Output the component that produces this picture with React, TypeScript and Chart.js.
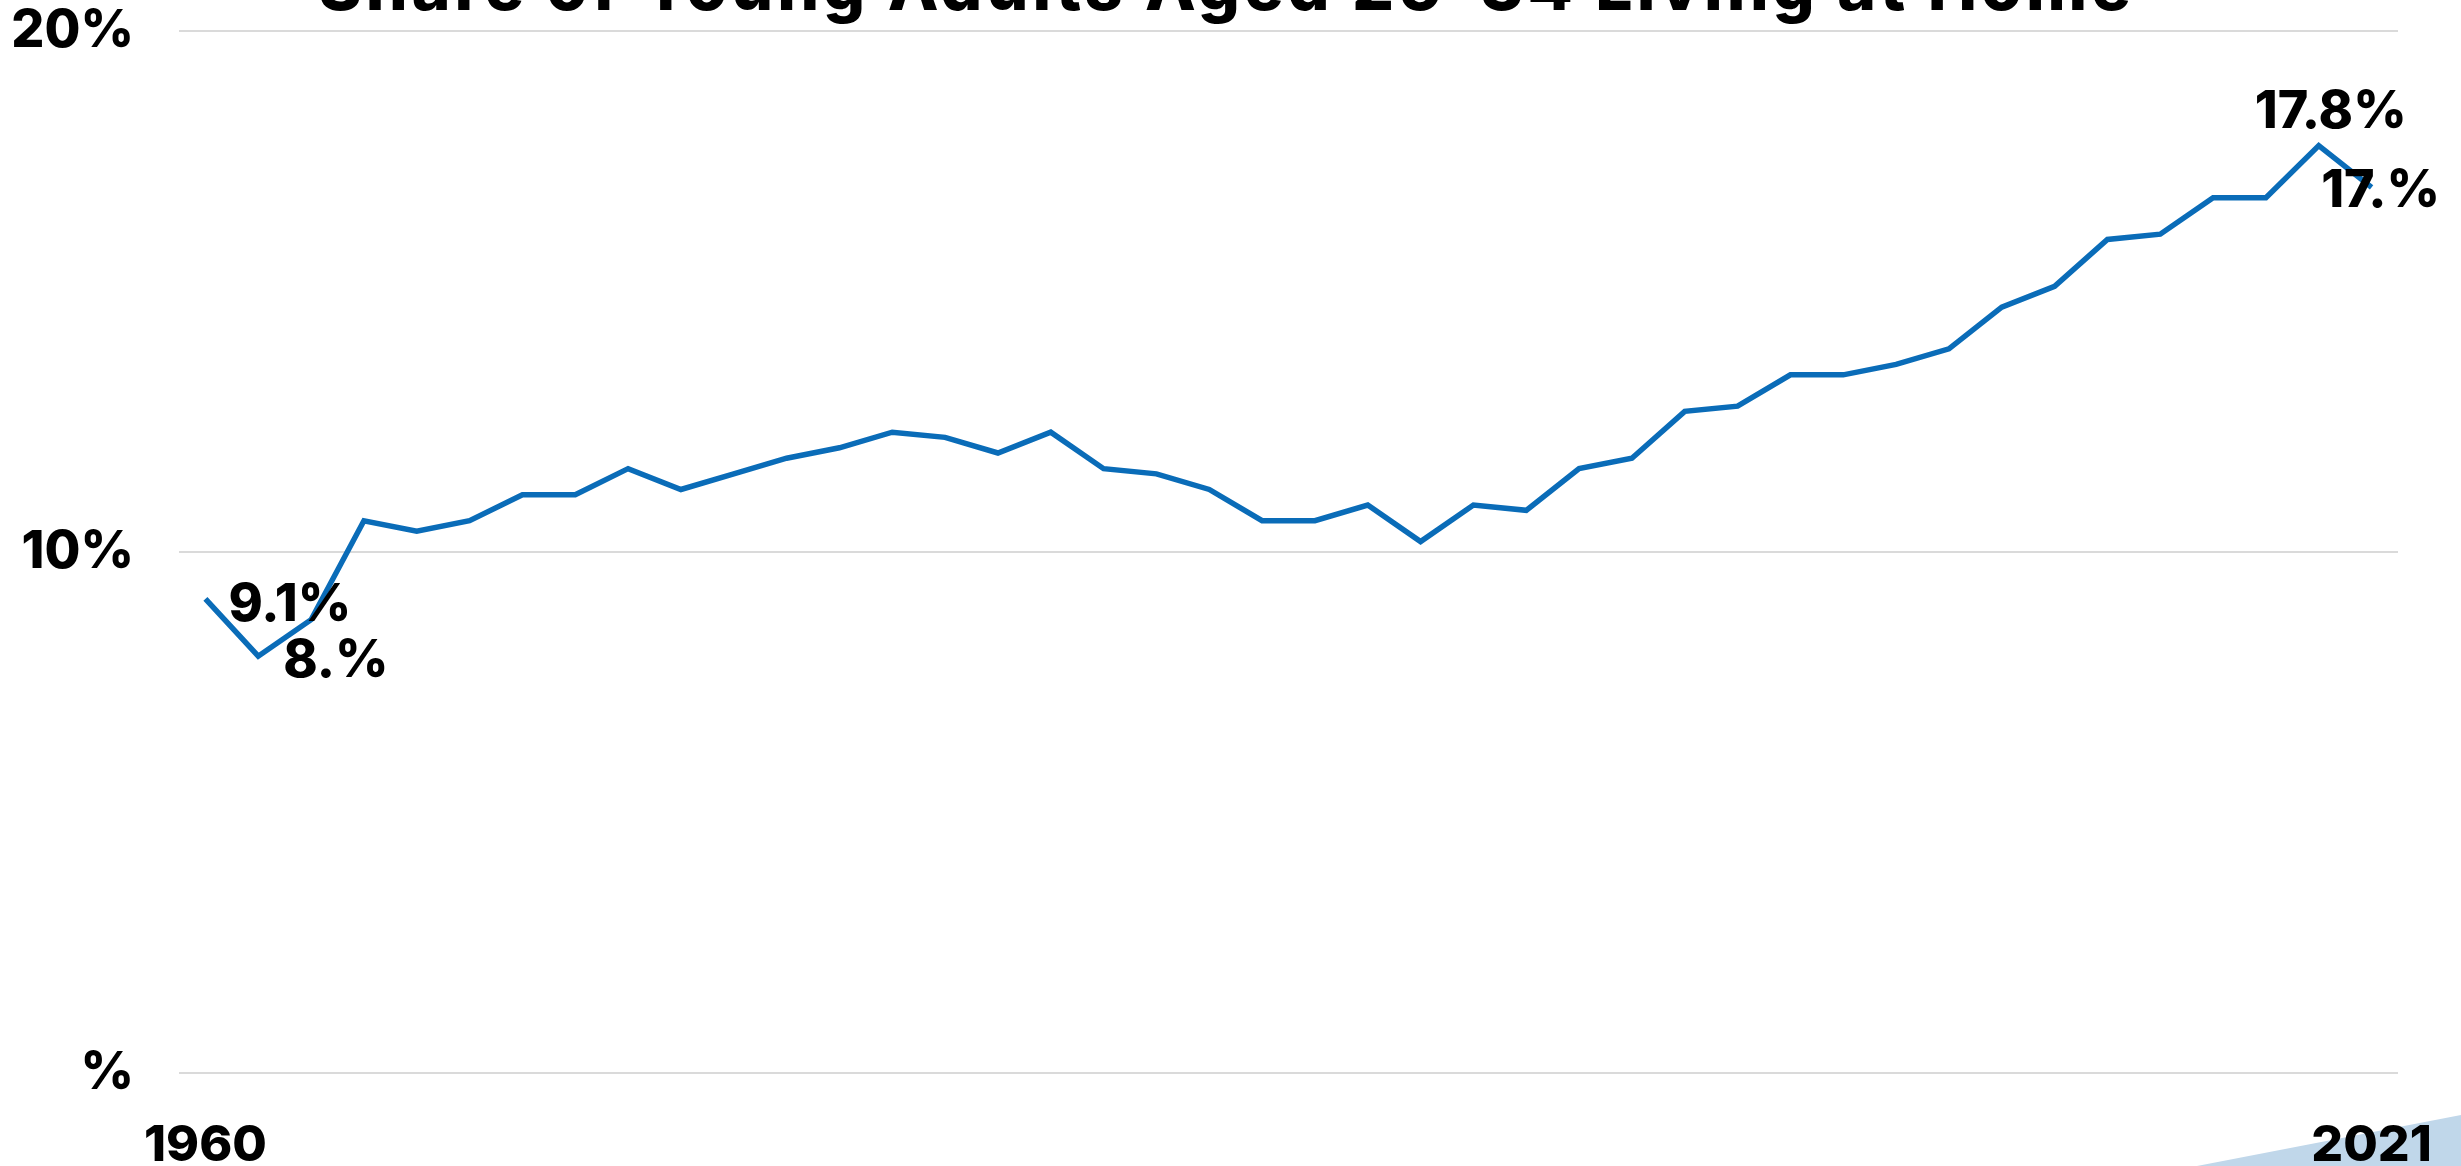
import React, { useEffect, useRef } from 'react';
import { Chart, registerables } from 'chart.js';

Chart.register(...registerables);

const TITLE = 'Share of Young Adults Aged 25-34 Living at Home';

const YEARS = [
  1960, 1970, 1980, 1983, 1984, 1985, 1986, 1987, 1988, 1989, 1990, 1991, 1992, 1993,
  1994, 1995, 1996, 1997, 1998, 1999, 2000, 2001, 2002, 2003, 2004, 2005, 2006, 2007,
  2008, 2009, 2010, 2011, 2012, 2013, 2014, 2015, 2016, 2017, 2018, 2019, 2020, 2021,
];

const SHARE = [
  9.1, 8.0, 8.7, 10.6, 10.4, 10.6, 11.1, 11.1, 11.6, 11.2, 11.5, 11.8, 12.0, 12.3,
  12.2, 11.9, 12.3, 11.6, 11.5, 11.2, 10.6, 10.6, 10.9, 10.2, 10.9, 10.8, 11.6, 11.8,
  12.7, 12.8, 13.4, 13.4, 13.6, 13.9, 14.7, 15.1, 16.0, 16.1, 16.8, 16.8, 17.8, 17.0,
];

const Y_TICKS = [0, 10, 20];
const Y_TICK_LABELS = ['%', '10%', '20%'];

// indices of points that carry a value label
const LABELED_POINTS = [0, 1, 40, 41];

const FONT_FAMILY = 'Inter, "Open Sans", "Noto Sans", sans-serif';
const LINE_COLOR = '#0a6cb8';

// label placement relative to its point (style only)
const LABEL_STYLE = [
  { align: 'left', dx: 23, dy: 22 },
  { align: 'left', dx: 25, dy: 21 },
  { align: 'center', dx: 12, dy: -18 },
  { align: 'center', dx: 9, dy: 20 },
];

// mimic the source's number format (trailing zeros dropped, keeping the dot)
const fmt = (v: number) => v.toFixed(1).replace(/0+$/, '') + '%';

export default function App() {
  const ref = useRef<HTMLCanvasElement | null>(null);

  useEffect(() => {
    if (!ref.current) return;

    const decoPlugin = {
      id: 'deco',
      beforeDraw(chart: any) {
        const { ctx, width, height } = chart;
        ctx.save();
        ctx.fillStyle = '#c0d7ea';
        ctx.beginPath();
        ctx.moveTo(width - 264, height);
        ctx.lineTo(width, height - 51);
        ctx.lineTo(width, height);
        ctx.closePath();
        ctx.fill();
        ctx.restore();
      },
      afterDraw(chart: any) {
        const { ctx, width } = chart;
        ctx.save();
        ctx.fillStyle = '#000';
        ctx.font = `800 66px ${FONT_FAMILY}`;
        try {
          (ctx as any).letterSpacing = '4px';
        } catch (e) {}
        ctx.textAlign = 'center';
        ctx.textBaseline = 'alphabetic';
        ctx.fillText(TITLE, width / 2 - 4, 10);
        ctx.restore();
      },
    };

    const labelPlugin = {
      id: 'pointLabels',
      afterDatasetsDraw(chart: any) {
        const { ctx } = chart;
        const meta = chart.getDatasetMeta(0);
        ctx.save();
        ctx.fillStyle = '#000';
        ctx.font = `800 52px ${FONT_FAMILY}`;
        ctx.textBaseline = 'alphabetic';
        LABELED_POINTS.forEach((idx, k) => {
          const pt = meta.data[idx];
          const st = LABEL_STYLE[k];
          ctx.textAlign = st.align;
          ctx.fillText(fmt(SHARE[idx]), pt.x + st.dx, pt.y + st.dy);
        });
        ctx.restore();
      },
    };

    const chart = new Chart(ref.current, {
      type: 'line',
      data: {
        labels: YEARS.map(String),
        datasets: [
          {
            data: SHARE,
            borderColor: LINE_COLOR,
            borderWidth: 5.5,
            pointRadius: 0,
            pointHoverRadius: 0,
            tension: 0,
            fill: false,
          },
        ],
      },
      options: {
        responsive: false,
        animation: false,
        events: [],
        layout: { autoPadding: false, padding: { top: 31, right: 63, left: 0, bottom: 0 } },
        plugins: {
          legend: { display: false },
          title: { display: false },
          tooltip: { enabled: false },
        },
        scales: {
          x: {
            type: 'category',
            offset: true,
            grid: { display: false, drawTicks: false },
            border: { display: false },
            afterFit(scale: any) {
              scale.height = 93;
              scale.paddingLeft = 0;
              scale.paddingRight = 0;
            },
            ticks: {
              autoSkip: false,
              maxRotation: 0,
              minRotation: 0,
              padding: 43,
              color: '#000',
              font: { family: FONT_FAMILY, size: 50, weight: '800' },
              callback: (_v: any, i: number) =>
                i === 0 || i === YEARS.length - 1 ? String(YEARS[i]) : '',
            },
          },
          y: {
            min: Y_TICKS[0],
            max: Y_TICKS[Y_TICKS.length - 1],
            afterBuildTicks(scale: any) {
              scale.ticks = Y_TICKS.map((v) => ({ value: v }));
            },
            afterFit(scale: any) {
              scale.width = 179;
              scale.paddingTop = 0;
              scale.paddingBottom = 0;
            },
            grid: { color: '#dadada', lineWidth: 2, drawTicks: false },
            border: { display: false },
            ticks: {
              padding: 45,
              color: '#000',
              font: { family: FONT_FAMILY, size: 52, weight: '800', lineHeight: 1 },
              callback: (v: any) => {
                const i = Y_TICKS.indexOf(Number(v));
                return i >= 0 ? Y_TICK_LABELS[i] : '';
              },
            },
          },
        },
      },
      plugins: [decoPlugin, labelPlugin],
    } as any);

    return () => chart.destroy();
  }, []);

  return (
    <div style={{ position: 'absolute', left: 0, top: 0, width: 2461, height: 1166, overflow: 'hidden' }}>
      <canvas ref={ref} width={2461} height={1166} style={{ display: 'block' }} />
    </div>
  );
}
